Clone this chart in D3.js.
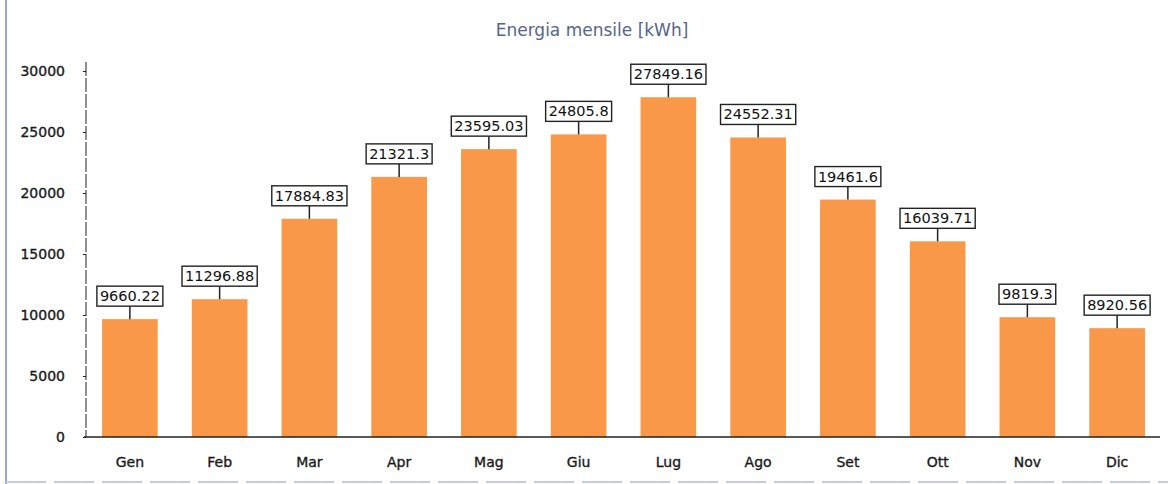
<!DOCTYPE html>
<meta charset="utf-8">
<style>
body { margin: 0; background: #fff; }
text { font-family: "DejaVu Sans", Verdana, sans-serif; }
.tick text { font-size: 14px; fill: #1a1a1a; stroke: #1a1a1a; stroke-width: 0.35px; }
.title { font-size: 17px; fill: #55648a; text-anchor: middle; }
.lbl { font-size: 14.5px; fill: #111; text-anchor: middle; }
</style>
<svg width="1168" height="484"></svg>
<script src="https://cdn.jsdelivr.net/npm/d3@7"></script>
<script>

var months = ["Gen", "Feb", "Mar", "Apr", "Mag", "Giu", "Lug", "Ago", "Set", "Ott", "Nov", "Dic"];
var energy = [9660.22, 11296.88, 17884.83, 21321.3, 23595.03, 24805.8, 27849.16, 24552.31, 19461.6, 16039.71, 9819.3, 8920.56];
var yTicks = [0, 5000, 10000, 15000, 20000, 25000, 30000];
var labels = ["9660.22", "11296.88", "17884.83", "21321.3", "23595.03", "24805.8", "27849.16", "24552.31", "19461.6", "16039.71", "9819.3", "8920.56"];

var svg = d3.select("svg");

// faint frame of the scanned page
svg.append("line").attr("x1", 6).attr("x2", 6).attr("y1", 0).attr("y2", 484)
    .attr("stroke", "#9aa6d8").attr("stroke-width", 2);
svg.append("line").attr("x1", 6).attr("x2", 1168).attr("y1", 482).attr("y2", 482)
    .attr("stroke", "#c4cae6").attr("stroke-width", 2).attr("stroke-dasharray", "40,8");

var x = d3.scaleBand()
    .domain(months)
    .range([85, 1162])
    .paddingInner(0.38)
    .paddingOuter(0.19);

var y = d3.scaleLinear()
    .domain([0, 30000])
    .range([437, 71]);

svg.append("text")
    .attr("class", "title")
    .attr("x", 592)
    .attr("y", 36)
    .text("Energia mensile [kWh]");

var bars = svg.append("g").selectAll("g")
    .data(energy)
    .enter().append("g");

bars.append("rect")
    .attr("x", function(d, i) { return x(months[i]); })
    .attr("y", function(d) { return y(d); })
    .attr("width", x.bandwidth())
    .attr("height", function(d) { return y(0) - y(d); })
    .attr("fill", "#fa984a");

bars.append("line")
    .attr("x1", function(d, i) { return x(months[i]) + x.bandwidth() / 2; })
    .attr("x2", function(d, i) { return x(months[i]) + x.bandwidth() / 2; })
    .attr("y1", function(d) { return y(d); })
    .attr("y2", function(d) { return y(d) - 13; })
    .attr("stroke", "#222")
    .attr("stroke-width", 1.5);

var lab = bars.append("g")
    .attr("transform", function(d, i) {
      return "translate(" + (x(months[i]) + x.bandwidth() / 2) + "," + (y(d) - 23) + ")";
    });

lab.append("rect")
    .attr("fill", "#fff")
    .attr("stroke", "#222")
    .attr("stroke-width", 1.4);

lab.append("text")
    .attr("class", "lbl")
    .attr("y", 5)
    .text(function(d, i) { return labels[i]; });

lab.each(function() {
  var g = d3.select(this),
      w = g.select("text").node().getComputedTextLength();
  g.select("rect")
      .attr("x", -w / 2 - 3)
      .attr("y", -10)
      .attr("width", w + 6)
      .attr("height", 20);
});

var yAxis = svg.append("g")
    .attr("transform", "translate(86,0)")
    .call(d3.axisLeft(y).tickValues(yTicks).tickSize(3).tickPadding(18).tickFormat(d3.format("d")));
yAxis.select(".domain").attr("d", "M0,62V437").attr("stroke", "#222").attr("stroke-dasharray", "14,2");
yAxis.selectAll(".tick line").attr("stroke", "#222");

var xAxis = svg.append("g")
    .attr("transform", "translate(0,437)")
    .call(d3.axisBottom(x).tickSize(0).tickPadding(20));
xAxis.select(".domain").attr("d", "M84,0H1160").attr("stroke", "#222").attr("stroke-width", 1.5);

</script>
